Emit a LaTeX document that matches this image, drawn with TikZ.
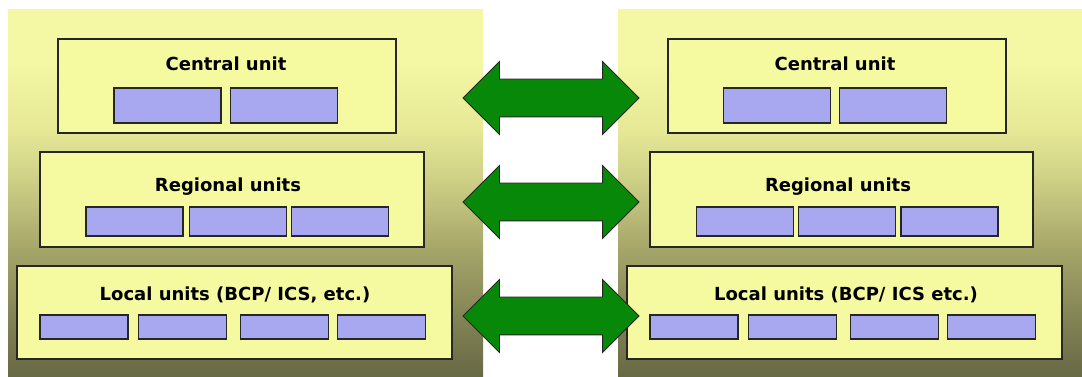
\documentclass[tikz,border=0pt]{standalone}
\usepackage{fontspec}
\setmainfont{DejaVu Sans}
\usetikzlibrary{positioning,shapes.arrows}
\definecolor{panel-top}{RGB}{244,247,164}
\definecolor{panel-hi}{RGB}{230,232,150}
\definecolor{panel-mid}{RGB}{200,202,130}
\definecolor{panel-low}{RGB}{165,166,105}
\definecolor{panel-deep}{RGB}{125,126,82}
\definecolor{panel-bot}{RGB}{104,105,69}
\definecolor{box-yellow}{RGB}{245,249,160}
\definecolor{sub-blue}{RGB}{168,168,240}
\definecolor{link-green}{RGB}{8,136,8}
\pgfdeclareverticalshading{panelfade}{100bp}{color(0bp)=(panel-bot); color(25bp)=(panel-bot); color(31.5bp)=(panel-deep); color(42.5bp)=(panel-low); color(50.5bp)=(panel-mid); color(58.5bp)=(panel-hi); color(68bp)=(panel-top); color(100bp)=(panel-top)}

\begin{document}
\begin{tikzpicture}

\tikzstyle{panel}=[shading=panelfade]
\tikzstyle{unit}=[draw=black!85, line width=1.2pt, fill=box-yellow, inner sep=0pt]
\tikzstyle{sub unit}=[unit, fill=sub-blue]
\tikzstyle{central sub}=[sub unit, minimum width=107pt, minimum height=35pt]
\tikzstyle{regional sub}=[sub unit, minimum width=97pt, minimum height=29pt]
\tikzstyle{local sub}=[sub unit, minimum width=88pt, minimum height=24pt]
\tikzstyle{title}=[font=\bfseries\fontsize{18}{21}\selectfont, inner sep=0pt]
\tikzstyle{link}=[double arrow, draw=black!85, line width=0.8pt, fill=link-green,
  inner xsep=0pt, inner ysep=18.5pt, minimum height=176pt, double arrow head extend=17.5pt]

\useasboundingbox (0pt,0pt) rectangle (1082pt,377pt);

% background panels
\shade[panel] (8pt,0pt) rectangle (483pt,367pt);
\shade[panel] (618pt,0pt) rectangle (1082pt,367pt);

% left side
\node[unit, minimum width=338pt, minimum height=94pt] (cuL) at (227pt,291pt) {};
\node[title] (cuLt) at (226pt,313pt) {Central unit};
\node[central sub] (cuL1) at (167.5pt,271.5pt) {};
\node[central sub, right=8pt of cuL1] (cuL2) {};

\node[unit, minimum width=384pt, minimum height=95pt] (ruL) at (232pt,177.5pt) {};
\node[title] (ruLt) at (228pt,190pt) {Regional units};
\node[regional sub] (ruL1) at (134.5pt,155.5pt) {};
\node[regional sub, right=5pt of ruL1] (ruL2) {};
\node[regional sub, right=4pt of ruL2] (ruL3) {};

\node[unit, minimum width=435pt, minimum height=93pt] (luL) at (234.5pt,64.5pt) {};
\node[title] (luLt) at (235pt,82pt) {Local units (BCP/ ICS, etc.)};
\node[local sub] (luL1) at (84pt,50pt) {};
\node[local sub, right=9pt of luL1] (luL2) {};
\node[local sub, right=13pt of luL2] (luL3) {};
\node[local sub, right=8pt of luL3] (luL4) {};

% right side
\node[unit, minimum width=338pt, minimum height=94pt] (cuR) at (837pt,291pt) {};
\node[title] (cuRt) at (835pt,313pt) {Central unit};
\node[central sub] (cuR1) at (777pt,271.5pt) {};
\node[central sub, right=8pt of cuR1] (cuR2) {};

\node[unit, minimum width=383pt, minimum height=95pt] (ruR) at (841.5pt,177.5pt) {};
\node[title] (ruRt) at (838pt,190pt) {Regional units};
\node[regional sub] (ruR1) at (745pt,155.5pt) {};
\node[regional sub, right=4pt of ruR1] (ruR2) {};
\node[regional sub, right=4pt of ruR2] (ruR3) {};

\node[unit, minimum width=435pt, minimum height=93pt] (luR) at (844.5pt,64.5pt) {};
\node[title] (luRt) at (846pt,82pt) {Local units (BCP/ ICS etc.)};
\node[local sub] (luR1) at (694pt,50pt) {};
\node[local sub, right=9pt of luR1] (luR2) {};
\node[local sub, right=13pt of luR2] (luR3) {};
\node[local sub, right=8pt of luR3] (luR4) {};

% links between the two sides
\node[link] (cuLink) at (551pt,279pt) {};
\node[link] (ruLink) at (551pt,175pt) {};
\node[link] (luLink) at (551pt,61pt) {};

\end{tikzpicture}
\end{document}
